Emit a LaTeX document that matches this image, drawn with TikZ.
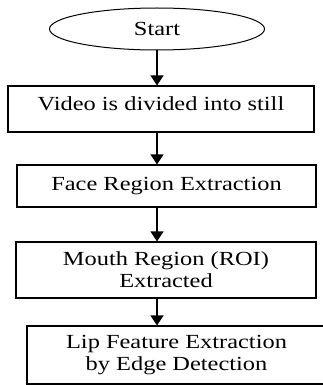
\documentclass[tikz,border=0pt]{standalone}
\usepackage{fontspec}
\setmainfont{Liberation Serif}[FakeStretch=1.22]
\usetikzlibrary{positioning,calc,shapes.geometric,arrows.meta}

\tikzset{
  stepbox/.style={draw,line width=1.2pt,rectangle,inner sep=0pt,align=center,
    font=\fontsize{20}{22}\selectfont},
  arr/.style={line width=1.2pt,-{Triangle[width=13pt,length=10pt]}}
}

\begin{document}
\begin{tikzpicture}[x=1pt,y=-1pt]
  \useasboundingbox (0,0) rectangle (322,385);

  \node[draw,line width=1pt,ellipse,minimum width=215pt,minimum height=42pt,inner sep=0pt,
    font=\fontsize{20}{22}\selectfont] (start) at (157,29) {Start};

  \node[stepbox,minimum width=306pt,minimum height=46pt,text depth=11pt] (video) at (161,109)
    {Video is divided into still};
  \node[stepbox,minimum width=299pt,minimum height=42pt] (face) at (166.5,186)
    {Face Region Extraction};
  \node[stepbox,minimum width=300pt,minimum height=56pt] (mouth) at (166,270)
    {Mouth Region (ROI)\\Extracted};
  \node[stepbox,minimum width=299pt,minimum height=58pt] (lip) at (176.5,355)
    {Lip Feature Extraction\\by Edge Detection};

  \draw[arr] (start.south) -- (video.north -| start.south);
  \draw[arr] (video.south -| start.south) -- (face.north -| start.south);
  \draw[arr] (face.south -| start.south) -- (mouth.north -| start.south);
  \draw[arr] (mouth.south -| start.south) -- (lip.north -| start.south);
\end{tikzpicture}
\end{document}
